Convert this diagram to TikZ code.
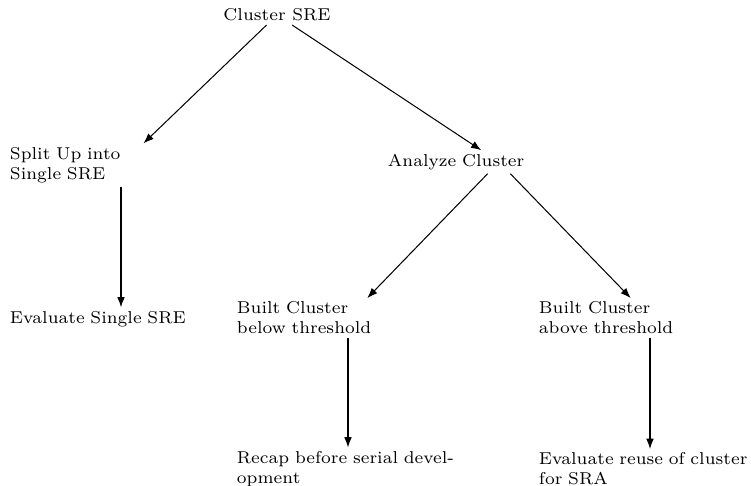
\documentclass[tikz,border=0pt]{standalone}
\usetikzlibrary{arrows.meta}
\begin{document}
\begin{tikzpicture}[x=0.39pt,y=-0.39pt,
  every node/.style={font=\fontsize{6.7}{7.8}\selectfont, inner ysep=1.3pt},
  item/.style={text width=86.6pt, align=left},
  link/.style={-{Latex[length=4pt,width=3pt]}},
]
\useasboundingbox (0,0) rectangle (751,486);
% root of the decision tree
\node (root) at (277,15) {Cluster SRE};
% first level
\node[item] (split) at (121,165) {Split Up into\\Single SRE};
\node[item] (analyze) at (499,162) {Analyze Cluster};
% second level
\node[item] (evalS) at (121,319) {Evaluate Single SRE};
\node[item] (below) at (348,318) {Built Cluster\\below threshold};
\node[item] (above) at (650,318) {Built Cluster\\above threshold};
% leaves
\node[item] (recap) at (348,469) {\mbox{Recap before serial devel-}\\opment};
\node[item] (reuse) at (650,469) {\mbox{Evaluate reuse of cluster}\\for SRA};
% connectors
\draw[link] (root) -- (split);
\draw[link] (root) -- (analyze);
\draw[link] (split) -- (evalS);
\draw[link] (analyze) -- (below);
\draw[link] (analyze) -- (above);
\draw[link] (below) -- (recap);
\draw[link] (above) -- (reuse);
\end{tikzpicture}
\end{document}
